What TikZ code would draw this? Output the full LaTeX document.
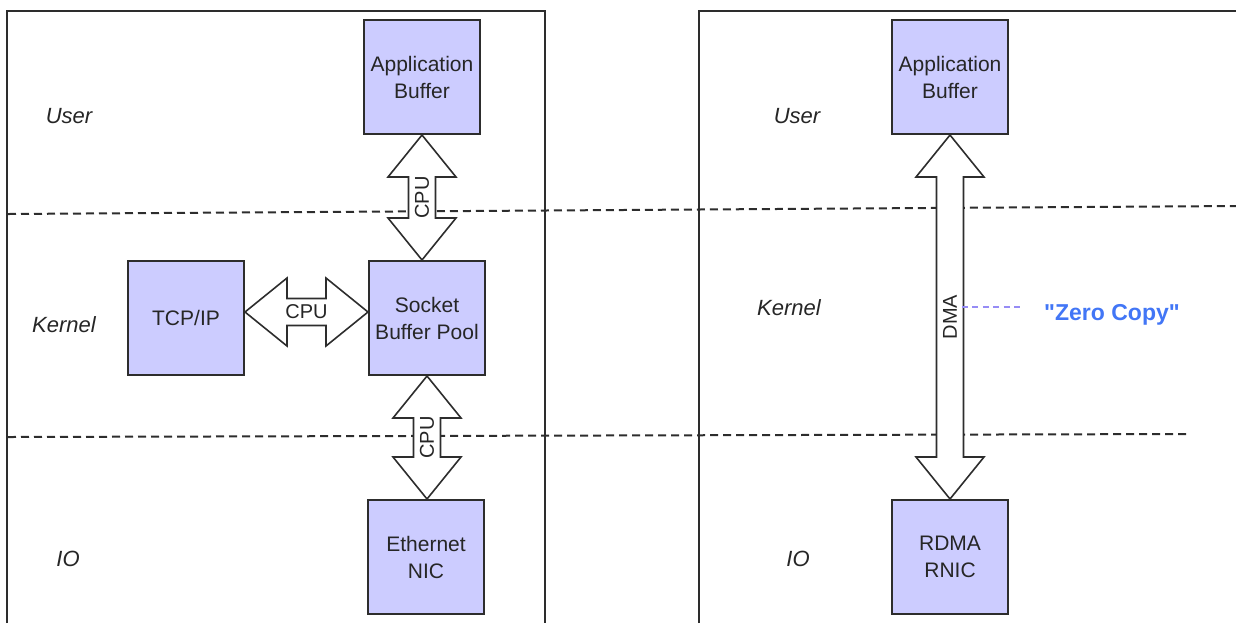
\documentclass[tikz,border=0pt]{standalone}
\usepackage{fontspec}
\setmainfont{Liberation Sans}
% same face without the TeX quote mapping, for straight double quotes
\newfontfamily\straightq{Liberation Sans}[Ligatures=ResetAll]
\usetikzlibrary{calc}

\definecolor{boxfill}{RGB}{204,204,255}
\definecolor{edge}{RGB}{45,45,45}
\definecolor{zcblue}{RGB}{66,118,246}
\definecolor{zcdash}{RGB}{150,140,245}

\tikzset{
  buf/.style={draw=edge, line width=1pt, fill=boxfill, minimum width=58pt,
    minimum height=57pt, inner sep=0pt, align=center, text=black!85,
    font=\fontsize{10.5}{13.5}\selectfont},
  layer/.style={font=\fontsize{11}{13}\selectfont\itshape, text=black!85},
  frame/.style={draw=edge, line width=0.8pt},
  sep/.style={draw=edge, line width=1pt, dash pattern=on 4pt off 2.5pt},
  fat/.style={draw=edge, line width=0.8pt, fill=white, line join=miter},
  tag/.style={font=\fontsize{10}{12}\selectfont, inner sep=0pt, text=black!85},
}

% Fat double-headed arrow between two points stacked vertically (#1 above #2)
\newcommand\vfat[3]{%
  \draw[fat] let \p1=(#1), \p2=(#2) in
    (\x1,\y1) -- (\x1+17pt,\y1-21pt) -- (\x1+6.75pt,\y1-21pt)
    -- (\x1+6.75pt,\y2+21pt) -- (\x1+17pt,\y2+21pt) -- (\x1,\y2)
    -- (\x1-17pt,\y2+21pt) -- (\x1-6.75pt,\y2+21pt)
    -- (\x1-6.75pt,\y1-21pt) -- (\x1-17pt,\y1-21pt) -- cycle;
  \path let \p1=(#1), \p2=(#2) in
    node[tag, rotate=90] at (\x1,{0.5*\y1+0.5*\y2}) {#3};
}
% Fat double-headed arrow between two points side by side (#1 left of #2)
\newcommand\hfat[3]{%
  \draw[fat] let \p1=(#1), \p2=(#2) in
    (\x1,\y1) -- (\x1+21pt,\y1+17pt) -- (\x1+21pt,\y1+6.75pt)
    -- (\x2-21pt,\y1+6.75pt) -- (\x2-21pt,\y1+17pt) -- (\x2,\y1)
    -- (\x2-21pt,\y1-17pt) -- (\x2-21pt,\y1-6.75pt)
    -- (\x1+21pt,\y1-6.75pt) -- (\x1+21pt,\y1-17pt) -- cycle;
  \path let \p1=(#1), \p2=(#2) in
    node[tag] at ({0.5*\x1+0.5*\x2},\y1) {#3};
}

\begin{document}
\begin{tikzpicture}[x=0.5pt, y=-0.5pt]
  \useasboundingbox (0,0) rectangle (1236,623);

  % panel frames, open at the bottom
  \draw[frame] (7,623) -- (7,11) -- (545,11) -- (545,623);
  \draw[frame] (699,623) -- (699,11) -- (1236,11);

  % layer separators
  \draw[sep] (8,214) -- (1236,206);
  \draw[sep] (8,437) -- (1190,434);

  % layer names
  \node[layer] (uL) at (69,116) {User};
  \node[layer] (kL) at (64,325) {Kernel};
  \node[layer] (iL) at (68,559) {IO};
  \node[layer] (uR) at (797,116) {User};
  \node[layer] (kR) at (789,308) {Kernel};
  \node[layer] (iR) at (798,559) {IO};

  % conventional stack
  \node[buf] (appL) at (422,77) {Application\\Buffer};
  \node[buf] (tcp) at (186,318) {TCP/IP};
  \node[buf] (sock) at (427,318) {Socket\\Buffer Pool};
  \node[buf] (eth) at (426,557) {Ethernet\\NIC};

  % RDMA stack
  \node[buf] (appR) at (950,77) {Application\\Buffer};
  \node[buf] (rnic) at (950,557) {RDMA\\RNIC};

  % copies
  \vfat{appL.south}{appL.south |- sock.north}{CPU}
  \hfat{[yshift=3pt]tcp.east}{[yshift=3pt]sock.west}{CPU}
  \vfat{sock.south}{sock.south |- eth.north}{CPU}
  \vfat{appR.south}{rnic.north}{DMA}

  % zero copy note
  \node[font=\straightq\fontsize{11.5}{14}\selectfont\bfseries, text=zcblue, inner sep=0pt]
    (zc) at (1112,315) {"Zero Copy"};
  \coordinate (zcfrom) at (962,307);
  \draw[zcdash, line width=0.7pt, dash pattern=on 3pt off 2.2pt, shorten >=10pt]
    (zcfrom) -- (zcfrom -| zc.west);
\end{tikzpicture}
\end{document}
